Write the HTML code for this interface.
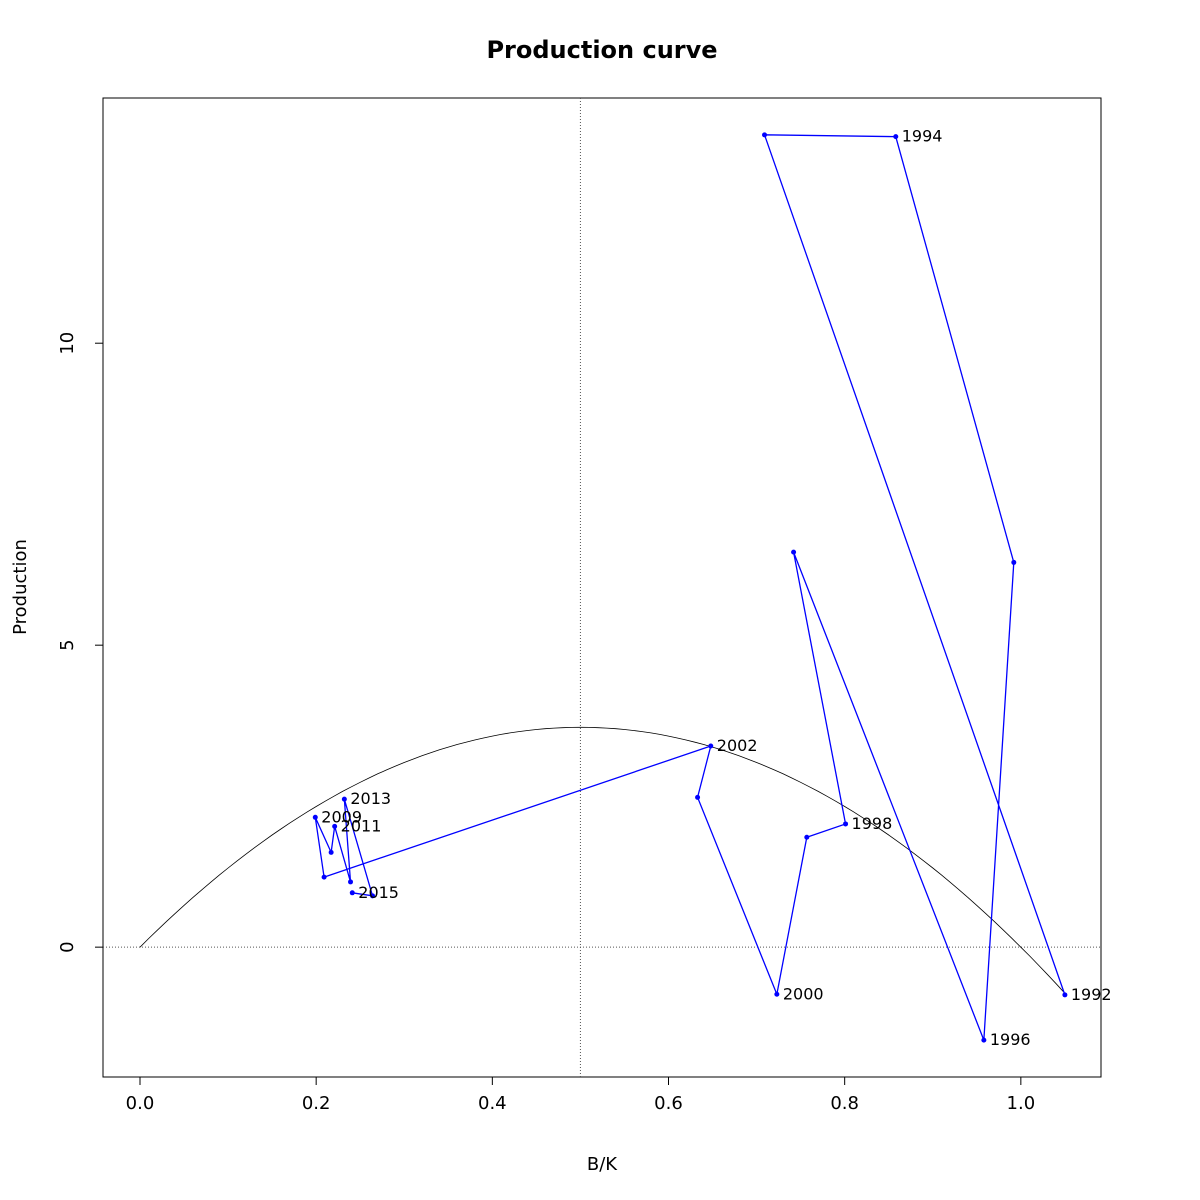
<!DOCTYPE html>
<html><head><meta charset="utf-8"><style>
body{margin:0;background:#fff}
svg{display:block;font-family:"DejaVu Sans","Liberation Sans",sans-serif}
</style></head><body>
<svg id="chart" width="1200" height="1200" viewBox="0 0 1200 1200">
<rect width="1200" height="1200" fill="#fff"/>
<text x="602" y="58" text-anchor="middle" font-weight="bold" font-size="24">Production curve</text>
<text x="602" y="1170" text-anchor="middle" font-size="18">B/K</text>
<text transform="translate(26,587) rotate(-90)" text-anchor="middle" font-size="18">Production</text>
<g id="g"></g>
</svg>
<script>
const years=[1992,1993,1994,1995,1996,1997,1998,1999,2000,2001,2002,2008,2009,2010,2011,2012,2013,2014,2015];
const bk=[1.050,0.709,0.858,0.992,0.958,0.742,0.801,0.757,0.723,0.633,0.648,0.209,0.199,0.217,0.221,0.239,0.232,0.264,0.241];
const prod=[-0.79,13.45,13.42,6.37,-1.54,6.54,2.04,1.82,-0.78,2.48,3.33,1.16,2.15,1.57,2.00,1.08,2.45,0.85,0.90];
const xTicks=[0,0.2,0.4,0.6,0.8,1.0];
const xTickLabels=["0.0","0.2","0.4","0.6","0.8","1.0"];
const yTicks=[0,5,10];
const yTickLabels=["0","5","10"];
const msy=3.64;
const L=103,R=1101,T=98,B=1077;
const xmin=-0.042,xmax=1.091,ymin=-2.15,ymax=14.06;
const sx=v=>L+(v-xmin)/(xmax-xmin)*(R-L);
const sy=v=>B-(v-ymin)/(ymax-ymin)*(B-T);
const g=document.getElementById('g');
const NS='http://www.w3.org/2000/svg';
function mk(t,a,name){const e=document.createElementNS(NS,t);for(const k in a)e.setAttribute(k,a[k]);


g.appendChild(e);return e;}
mk('rect',{x:L,y:T,width:R-L,height:B-T,fill:'none',stroke:'#000','stroke-width':1},'plot-frame');
mk('line',{x1:L,x2:R,y1:sy(0),y2:sy(0),stroke:'#555','stroke-dasharray':'1,2'},'zero-line');
mk('line',{x1:sx(0.5),x2:sx(0.5),y1:T,y2:B,stroke:'#555','stroke-dasharray':'1,2'},'bmsy-line');
xTicks.forEach((v,i)=>{mk('line',{x1:sx(v),x2:sx(v),y1:B,y2:B+8,stroke:'#000'},'x-tick');
const t=mk('text',{x:sx(v),y:B+32,'text-anchor':'middle','font-size':18},'x-tick-label');t.textContent=xTickLabels[i];});
yTicks.forEach((v,i)=>{mk('line',{x1:L-8,x2:L,y1:sy(v),y2:sy(v),stroke:'#000'},'y-tick');
const t=mk('text',{transform:`translate(${L-30},${sy(v)}) rotate(-90)`,'text-anchor':'middle','font-size':18},'y-tick-label');t.textContent=yTickLabels[i];});
let d='';for(let i=0;i<=105;i++){const x=i/100;d+=(i?'L':'M')+sx(x).toFixed(1)+','+sy(4*msy*x*(1-x)).toFixed(1);}
mk('path',{d,fill:'none',stroke:'#000','stroke-width':0.8},'production-curve');
mk('polyline',{points:bk.map((v,i)=>sx(v)+','+sy(prod[i])).join(' '),fill:'none',stroke:'#00f','stroke-width':1.3},'trajectory-line');
bk.forEach((v,i)=>{mk('circle',{cx:sx(v),cy:sy(prod[i]),r:2.5,fill:'#00f'},'point-'+years[i]);
if(i%2===0||i===years.length-1){const t=mk('text',{x:sx(v)+6,y:sy(prod[i])+5,'font-size':16},'label-'+years[i]);t.textContent=years[i];}});
</script>
</body></html>
